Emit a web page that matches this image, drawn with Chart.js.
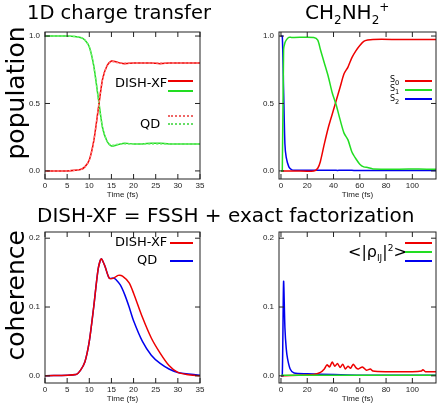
<!DOCTYPE html>
<html><head><meta charset="utf-8">
<script src="https://cdn.jsdelivr.net/npm/chart.js@4"></script>
<style>
body{margin:0;width:440px;height:404px;position:relative;background:#fff;font-family:"DejaVu Sans",sans-serif;overflow:hidden}
canvas{position:absolute}
.t{position:absolute;white-space:nowrap;color:#000}
.ln{position:absolute;height:2px}
.dot{position:absolute;height:0;border-top:2px dotted}
</style></head><body>
<canvas id="c1" style="left:0;top:0"></canvas>
<canvas id="c2" style="left:220px;top:0"></canvas>
<canvas id="c3" style="left:0;top:200px"></canvas>
<canvas id="c4" style="left:220px;top:200px"></canvas>

<div class="t" style="left:27px;top:1px;font-size:19.5px">1D charge transfer</div>
<div class="t" style="left:305px;top:0;font-size:20px">CH<sub style="font-size:12px">2</sub>NH<sub style="font-size:12px">2</sub><sup style="font-size:12px">+</sup></div>
<div class="t" style="left:37px;top:203px;font-size:20px">DISH-XF = FSSH + exact factorization</div>
<div class="t" style="left:-40px;top:90px;font-size:25px;transform:rotate(-90deg);transform-origin:center;width:110px;text-align:center">population</div>
<div class="t" style="left:-40px;top:291px;font-size:25px;transform:rotate(-90deg);transform-origin:center;width:110px;text-align:center">coherence</div>

<div class="t" style="left:115px;top:75px;font-size:13px">DISH-XF</div>
<div class="ln" style="left:168px;top:80px;width:25px;background:#e00"></div>
<div class="ln" style="left:168px;top:90px;width:25px;background:#2d2"></div>
<div class="t" style="left:140px;top:116px;font-size:13px">QD</div>
<div class="dot" style="left:168px;top:115px;width:25px;border-color:#e66"></div>
<div class="dot" style="left:168px;top:123px;width:25px;border-color:#6d6"></div>

<div class="t" style="left:390px;top:75px;font-size:8px">S<sub>0</sub></div>
<div class="t" style="left:390px;top:84px;font-size:8px">S<sub>1</sub></div>
<div class="t" style="left:390px;top:94px;font-size:8px">S<sub>2</sub></div>
<div class="ln" style="left:405px;top:80px;width:27px;background:#e00"></div>
<div class="ln" style="left:405px;top:89px;width:27px;background:#2d2"></div>
<div class="ln" style="left:405px;top:98px;width:27px;background:#00e"></div>

<div class="t" style="left:115px;top:234px;font-size:13px">DISH-XF</div>
<div class="ln" style="left:170px;top:242px;width:23px;background:#e00"></div>
<div class="t" style="left:137px;top:252px;font-size:13px">QD</div>
<div class="ln" style="left:170px;top:260px;width:23px;background:#00e"></div>

<div class="t" style="left:348px;top:242px;font-size:16px">&lt;|ρ<sub style="font-size:9px">IJ</sub>|<sup style="font-size:9px">2</sup>&gt;</div>
<div class="ln" style="left:405px;top:242px;width:27px;background:#e00"></div>
<div class="ln" style="left:405px;top:251px;width:27px;background:#2d2"></div>
<div class="ln" style="left:405px;top:260px;width:27px;background:#00e"></div>

<script>
// panel 1: 1D charge transfer populations
const t1 = [0,5,8,9,10,11,12,13,14,15,16,17,18,20,22,24,26,28,30,32,35];
const xfRed = [0,0,0.01,0.03,0.08,0.22,0.45,0.68,0.78,0.815,0.81,0.80,0.795,0.80,0.80,0.80,0.795,0.80,0.80,0.80,0.80];
const xfGreen = [1,1,0.99,0.97,0.92,0.78,0.55,0.32,0.22,0.185,0.19,0.20,0.205,0.20,0.20,0.205,0.205,0.20,0.20,0.20,0.20];
const qdRed = [0,0,0.01,0.03,0.08,0.22,0.46,0.68,0.78,0.81,0.805,0.80,0.80,0.80,0.80,0.80,0.80,0.80,0.80,0.80,0.80];
const qdGreen = [1,1,0.99,0.97,0.92,0.78,0.54,0.32,0.22,0.19,0.195,0.20,0.20,0.20,0.20,0.20,0.20,0.20,0.20,0.20,0.20];

// panel 2: CH2NH2+ populations
const t2 = [0,1,2,3,4,6,8,10,25,28,30,33,36,39,42,45,48,51,54,57,60,63,66,70,90,105,118];
const s0 = [0,0,0,0,0,0,0,0,0,0.02,0.07,0.2,0.32,0.42,0.52,0.62,0.72,0.77,0.84,0.89,0.93,0.96,0.97,0.975,0.975,0.975,0.975];
const s1 = [0,0,0.9,0.95,0.97,0.99,0.99,0.99,0.99,0.97,0.9,0.8,0.7,0.58,0.49,0.38,0.28,0.23,0.14,0.09,0.05,0.03,0.025,0.015,0.013,0.015,0.012];
const s2 = [1,1,0.6,0.2,0.1,0.03,0.01,0.005,0.005,0.005,0.005,0.005,0.005,0.005,0.004,0.004,0.004,0.004,0.004,0.003,0.003,0.003,0.003,0.003,0.003,0.003,0.003];

// panel 3: coherence, 1D model
const t3x = [0,7,8,9,10,11,12,12.7,13.5,14.5,15.5,16.5,17.5,19,20,22,24,26,28,30,32,35];
const cohXF = [0,0.002,0.008,0.02,0.05,0.1,0.155,0.17,0.16,0.142,0.142,0.146,0.145,0.135,0.12,0.085,0.055,0.033,0.015,0.005,0.002,0];
const t3q = [0,7,8,9,10,11,12,12.7,13.5,14.5,15.5,16,17,18,19,20,22,24,26,28,30,35];
const cohQD = [0,0.002,0.008,0.02,0.05,0.1,0.155,0.17,0.16,0.142,0.142,0.14,0.132,0.118,0.1,0.08,0.05,0.03,0.018,0.01,0.005,0.001];

// panel 4: coherence, CH2NH2+
const t4r = [0,25,30,33,35,37,39,41,43,45,47,49,51,53,55,57,59,62,65,68,70,80,100,107,108,110,118];
const c01 = [0,0.002,0.005,0.01,0.016,0.013,0.02,0.014,0.018,0.012,0.017,0.01,0.014,0.011,0.017,0.012,0.01,0.013,0.008,0.01,0.007,0.006,0.006,0.007,0.009,0.006,0.006];
const t4g = [0,118];
const c12 = [0.001,0.001];
const t4b = [0,1,2,3,4,5,7,10,20,40,60,118];
const c02 = [0,0,0.137,0.07,0.04,0.025,0.01,0.004,0.003,0.002,0.001,0.001];

const pts = (xs, ys) => xs.map((x,i)=>({x, y: ys[i]}));
const ds = (xs, ys, color, dash) => ({data: pts(xs,ys), borderColor: color, borderWidth: 1.5, borderDash: dash||[], pointRadius: 0, tension: 0.25, fill:false});

const frame = {
  id:'frame',
  afterDraw(c){
    const {ctx, chartArea:a, scales:{x,y}} = c;
    ctx.save();
    ctx.strokeStyle = '#222'; ctx.lineWidth = 1;
    ctx.strokeRect(a.left, a.top, a.right-a.left, a.bottom-a.top);
    ctx.beginPath();
    x.ticks.forEach(t=>{const p=x.getPixelForValue(t.value); ctx.moveTo(p,a.bottom); ctx.lineTo(p,a.bottom-5); ctx.moveTo(p,a.top); ctx.lineTo(p,a.top+5);});
    y.ticks.forEach(t=>{const p=y.getPixelForValue(t.value); ctx.moveTo(a.left,p); ctx.lineTo(a.left+5,p); ctx.moveTo(a.right,p); ctx.lineTo(a.right-5,p);});
    ctx.stroke();
    ctx.restore();
  }
};

function panel(id, datasets, xr, xTicks, yr, yTicks, yDigits){
  const right = id==='c2'||id==='c4';
  new Chart(document.getElementById(id), {
    type:'line',
    data:{datasets},
    plugins:[frame],
    options:{
      responsive:false, animation:false,
      layout:{padding:{top:32, right: right ? 4 : 20, left:0, bottom:0}},
      plugins:{legend:{display:false}, tooltip:{enabled:false}},
      scales:{
        x:{type:'linear', min:xr[0], max:xr[1],
           afterBuildTicks:s=>{s.ticks = xTicks.map(v=>({value:v}));},
           afterFit:s=>{s.height = 21;},
           grid:{display:false, drawTicks:false}, border:{display:false},
           ticks:{color:'#222', font:{size:8}, padding:2, maxRotation:0},
           title:{display:true, text:'Time (fs)', color:'#222', font:{size:8}, padding:0}},
        y:{min:yr[0], max:yr[1],
           afterBuildTicks:s=>{s.ticks = yTicks.map(v=>({value:v}));},
           afterFit:s=>{s.width = right ? 59 : 45;},
           grid:{display:false, drawTicks:false}, border:{display:false},
           ticks:{color:'#222', font:{size:8}, padding:5, callback:v=>v.toFixed(yDigits)}}
      }
    }
  });
}

for (const id of ['c1','c2','c3','c4']){ const c=document.getElementById(id); c.width=220; c.height= id==='c1'||id==='c2'?200:204; }

panel('c1', [ds(t1,qdRed,'#f77',[2,2]), ds(t1,qdGreen,'#7e7',[2,2]), ds(t1,xfRed,'#e00'), ds(t1,xfGreen,'#2d2')],
  [0,35], [0,5,10,15,20,25,30,35], [-0.06,1.03], [0,0.5,1], 1);
panel('c2', [ds(t2,s1,'#2d2'), ds(t2,s0,'#e00'), ds(t2,s2,'#00e')],
  [-1.5,118], [0,20,40,60,80,100], [-0.06,1.03], [0,0.5,1], 1);
panel('c3', [ds(t3x,cohXF,'#e00'), ds(t3q,cohQD,'#00e')],
  [0,35], [0,5,10,15,20,25,30,35], [-0.0104,0.209], [0,0.1,0.2], 1);
panel('c4', [ds(t4g,c12,'#2d2'), ds(t4r,c01,'#e00'), ds(t4b,c02,'#00e')],
  [-1.5,118], [0,20,40,60,80,100], [-0.0104,0.209], [0,0.1,0.2], 1);
</script>
</body></html>
